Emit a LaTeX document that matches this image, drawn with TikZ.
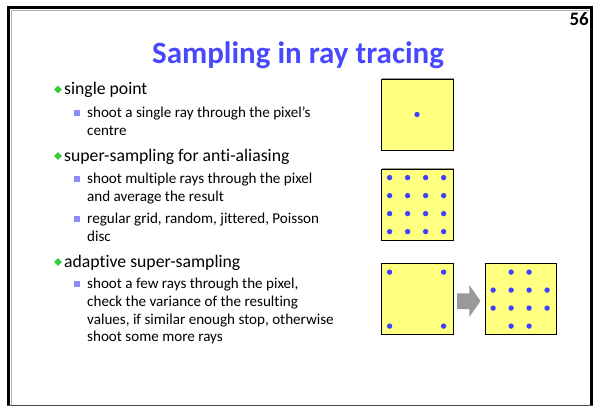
\documentclass[tikz,border=0pt]{standalone}
\usepackage{fontspec}
\setmainfont{Carlito}[Ligatures={NoCommon,NoContextual}]
\usetikzlibrary{shadows}
\definecolor{titleblue}{RGB}{72,72,255}
\definecolor{dotblue}{RGB}{64,64,255}
\definecolor{pixyellow}{RGB}{255,255,128}
\definecolor{bulgreen}{RGB}{51,204,51}
\definecolor{subsq}{RGB}{140,140,255}
\definecolor{arrgrey}{RGB}{153,153,153}
\tikzset{
  titletext/.style={font=\bfseries\fontsize{31}{34}\selectfont, text=titleblue, inner sep=0pt, anchor=base},
  numtext/.style={font=\bfseries\fontsize{19}{20}\selectfont, inner sep=0pt, anchor=base east},
  itemtext/.style={font=\fontsize{17.7}{18}\selectfont, inner sep=0pt, anchor=base west},
  subtext/.style={font=\fontsize{15.1}{18}\selectfont, inner sep=0pt, anchor=base west},
  diamondbul/.style={fill=bulgreen},
  squarebul/.style={fill=subsq},
  pixel/.style={draw=black, line width=0.8pt, fill=pixyellow, inner sep=0pt,
    drop shadow={shadow xshift=1pt, shadow yshift=1pt, fill=black!40, opacity=1}},
  sampledot/.style={fill=dotblue},
  blockarrow/.style={fill=arrgrey}
}
\begin{document}
\begin{tikzpicture}[x=1pt,y=-1pt]
\useasboundingbox (0,0) rectangle (597,410);
\fill[white] (0,0) rectangle (597,410);
% slide frame
\draw[black!30, line width=1pt] (11,405) -- (11,10.5) -- (590,10.5);
\draw[black, line width=3pt] (8.5,406) -- (8.5,7.5) -- (591.5,7.5) -- (591.5,406);
\draw[black!70, line width=1.5pt] (7,405.5) -- (593,405.5);
% number and title
\node[numtext] (num) at (589,25) {56};
\node[titletext] (title) at (298,63) {Sampling in ray tracing};
% main bullets
\foreach \yy in {89.5,156,262} {
  \fill[diamondbul] (58,\yy-3.8) -- (61.8,\yy) -- (58,\yy+3.8) -- (54.2,\yy) -- cycle;
}
\foreach \yy in {113,179,218.5,284} {
  \fill[squarebul] (74,\yy-3) rectangle (80,\yy+3);
}
\node[itemtext] (i1) at (64,94.5) {single point};
\node[subtext] (s1a) at (87,117.5) {shoot a single ray through the pixel’s};
\node[subtext] (s1b) at (87,135.5) {centre};
\node[itemtext] (i2) at (64,161) {super-sampling for anti-aliasing};
\node[subtext] (s2a) at (87,183.5) {shoot multiple rays through the pixel};
\node[subtext] (s2b) at (87,201.5) {and average the result};
\node[subtext] (s3a) at (87,223) {regular grid, random, jittered, Poisson};
\node[subtext] (s3b) at (87,241) {disc};
\node[itemtext] (i3) at (64,267) {adaptive super-sampling};
\node[subtext] (s4a) at (87,288.5) {shoot a few rays through the pixel,};
\node[subtext] (s4b) at (87,306.5) {check the variance of the resulting};
\node[subtext] (s4c) at (87,324) {values, if similar enough stop, otherwise};
\node[subtext] (s4d) at (87,341.5) {shoot some more rays};
% pixels
\node[pixel, minimum width=72pt, minimum height=71pt] (p1) at (417,114.5) {};
\node[pixel, minimum width=72pt, minimum height=71pt] (p2) at (417,204.5) {};
\node[pixel, minimum width=72pt, minimum height=71pt] (p3) at (417,299) {};
\node[pixel, minimum width=71pt, minimum height=71pt] (p4) at (520.5,299) {};
% dots
\fill[sampledot] (p1.center) circle (2.7pt);
\begin{scope}[shift={(p2.north west)}]
  \foreach \i in {0,...,3} \foreach \j in {0,...,3}
    \fill[sampledot] (9+18*\i,9+18*\j) circle (2.7pt);
\end{scope}
\begin{scope}[shift={(p3.north west)}]
  \foreach \i/\j in {0/0,3/0,0/3,3/3}
    \fill[sampledot] (9+18*\i,9+18*\j) circle (2.7pt);
\end{scope}
\begin{scope}[shift={(p4.north west)}]
  \foreach \i/\j in {1/0,2/0,0/1,1/1,2/1,3/1,0/2,1/2,2/2,3/2,1/3,2/3}
    \fill[sampledot] (8.5+18*\i,9+18*\j) circle (2.7pt);
\end{scope}
% arrow
\fill[blockarrow] (457,293.3) -- (469.3,293.3) -- (469.3,285) -- (480.5,301) -- (469.3,317) -- (469.3,309) -- (457,309) -- cycle;
\end{tikzpicture}
\end{document}
